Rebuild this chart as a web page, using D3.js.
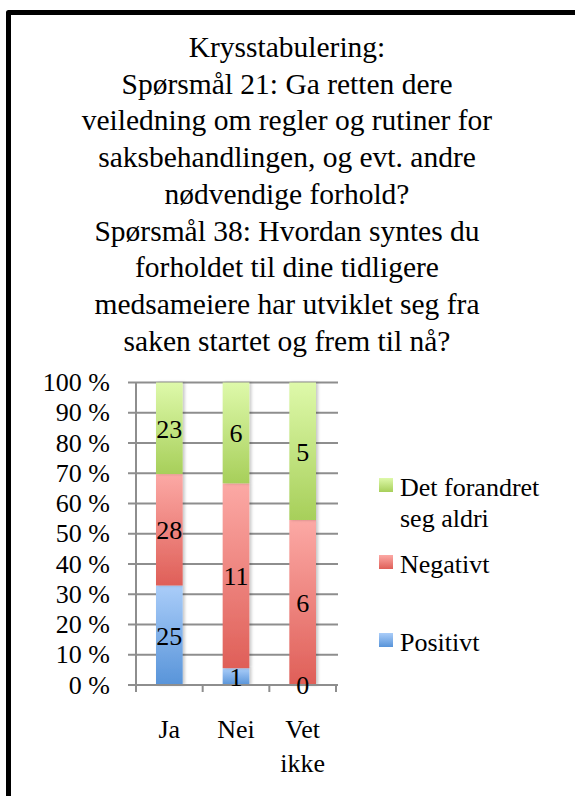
<!DOCTYPE html>
<html>
<head>
    <meta charset="utf-8">
    <title>Krysstabulering</title>
    <style>
        body {
            margin: 0;
            background: #fff;
            overflow: hidden;
        }
        svg text {
            font-family: 'Liberation Serif', 'DejaVu Serif', serif;
            fill: #000;
        }
        .grid line {
            stroke: #8e8e8e;
            stroke-width: 2px;
        }
    </style>
</head>
<body>
    <script src="https://d3js.org/d3.v7.min.js"></script>
    <script>
        // Chart data
        var titleLines = [
            "Krysstabulering:",
            "Spørsmål 21: Ga retten dere",
            "veiledning om regler og rutiner for",
            "saksbehandlingen, og evt. andre",
            "nødvendige forhold?",
            "Spørsmål 38: Hvordan syntes du",
            "forholdet til dine tidligere",
            "medsameiere har utviklet seg fra",
            "saken startet og frem til nå?"
        ];
        var categories = ["Ja", "Nei", "Vet ikke"];
        var seriesNames = ["Positivt", "Negativt", "Det forandret seg aldri"];
        var positive = [25, 1, 0];
        var negative = [28, 11, 6];
        var unchanged = [23, 6, 5];
        var yTicks = [0, 0.1, 0.2, 0.3, 0.4, 0.5, 0.6, 0.7, 0.8, 0.9, 1];

        var width = 575, height = 796;
        var serif = "'Liberation Serif', 'DejaVu Serif', serif";
        var labelSize = "26px";

        var svg = d3.select("body").append("svg")
            .attr("width", width)
            .attr("height", height)
            .attr("font-family", serif);

        // gradients for each series (light at top, darker at bottom)
        var gradColors = [
            ["#aacdf9", "#5894d9"],
            ["#fca9a5", "#df5f58"],
            ["#def9aa", "#a7cf5a"]
        ];
        var defs = svg.append("defs");
        gradColors.forEach(function(c, i) {
            var g = defs.append("linearGradient")
                .attr("id", "grad" + i)
                .attr("x1", 0).attr("y1", 0).attr("x2", 0).attr("y2", 1);
            g.append("stop").attr("offset", "0%").attr("stop-color", c[0]);
            g.append("stop").attr("offset", "100%").attr("stop-color", c[1]);
        });
        var shadow = defs.append("filter").attr("id", "shadow")
            .attr("x", "-30%").attr("y", "-5%").attr("width", "160%").attr("height", "110%");
        shadow.append("feDropShadow")
            .attr("dx", 2).attr("dy", 0)
            .attr("stdDeviation", 1.6)
            .attr("flood-color", "#000")
            .attr("flood-opacity", 0.22);

        // outer frame (only top and left edges are visible)
        svg.append("path")
            .attr("d", "M8.5," + (height + 10) + " V12.5 H" + (width + 10))
            .attr("fill", "none")
            .attr("stroke", "#000")
            .attr("stroke-width", 5)
            .attr("stroke-linejoin", "round");

        // title
        svg.append("text")
            .attr("text-anchor", "middle")
            .style("font-family", serif)
            .style("font-size", "29.5px")
            .selectAll("tspan")
            .data(titleLines)
            .enter().append("tspan")
            .attr("x", 287)
            .attr("y", function(d, i) { return 57 + i * 36.7; })
            .text(function(d) { return d; });

        // stacked percentages
        var stackData = categories.map(function(c, i) {
            var total = positive[i] + negative[i] + unchanged[i];
            return { cat: c, vals: [positive[i], negative[i], unchanged[i]], total: total };
        });

        var x = d3.scaleBand()
            .domain(categories)
            .range([136, 336])
            .paddingInner(0.6)
            .paddingOuter(0.3);

        var y = d3.scaleLinear()
            .domain([0, 1])
            .range([685, 382.5]);

        // horizontal gridlines
        svg.append("g")
            .attr("class", "grid")
            .selectAll("line")
            .data(yTicks)
            .enter().append("line")
            .attr("x1", 128)
            .attr("x2", 338)
            .attr("y1", function(d) { return y(d); })
            .attr("y2", function(d) { return y(d); });

        // y axis labels
        svg.append("g")
            .selectAll("text")
            .data(yTicks)
            .enter().append("text")
            .attr("x", 110)
            .attr("y", function(d) { return y(d); })
            .attr("dy", "0.33em")
            .attr("text-anchor", "end")
            .style("font-family", serif)
            .style("font-size", labelSize)
            .text(function(d) { return Math.round(d * 100) + " %"; });

        // axis lines
        var axisG = svg.append("g").attr("class", "grid");
        axisG.append("line")
            .attr("x1", 136).attr("x2", 136)
            .attr("y1", y(1)).attr("y2", y(0) + 7);
        var step = x.step();
        d3.range(categories.length + 1).forEach(function(k) {
            var xp = x.range()[0] + k * step;
            axisG.append("line")
                .attr("x1", xp).attr("x2", xp)
                .attr("y1", y(0)).attr("y2", y(0) + 7);
        });

        // bars
        var segments = [];
        stackData.forEach(function(d) {
            var acc = 0;
            d.vals.forEach(function(v, s) {
                var p0 = acc / d.total;
                acc += v;
                var p1 = acc / d.total;
                segments.push({ cat: d.cat, s: s, v: v, p0: p0, p1: p1 });
            });
        });

        var bars = svg.append("g");
        bars.selectAll("rect")
            .data(segments.filter(function(d) { return d.v > 0; }))
            .enter().append("rect")
            .attr("x", function(d) { return x(d.cat); })
            .attr("width", x.bandwidth())
            .attr("y", function(d) { return y(d.p1); })
            .attr("height", function(d) { return y(d.p0) - y(d.p1); })
            .attr("fill", function(d) { return "url(#grad" + d.s + ")"; })
            .attr("filter", "url(#shadow)");

        // redraw the baseline over the bars' bottom
        svg.append("line")
            .attr("x1", 128).attr("x2", 338)
            .attr("y1", y(0)).attr("y2", y(0))
            .attr("stroke", "#8e8e8e")
            .attr("stroke-width", 2);

        // data labels
        svg.append("g")
            .selectAll("text")
            .data(segments)
            .enter().append("text")
            .attr("x", function(d) { return x(d.cat) + x.bandwidth() / 2; })
            .attr("y", function(d) { return y((d.p0 + d.p1) / 2); })
            .attr("dy", "0.36em")
            .attr("text-anchor", "middle")
            .style("font-family", serif)
            .style("font-size", labelSize)
            .text(function(d) { return d.v; });

        // category labels (wrapped)
        var catText = svg.append("g")
            .selectAll("text")
            .data(categories)
            .enter().append("text")
            .attr("text-anchor", "middle")
            .style("font-family", serif)
            .style("font-size", labelSize);
        catText.each(function(c) {
            var words = c.split(" ");
            var t = d3.select(this);
            var lines = words.length > 1 && c.length > 4 ? words : [c];
            lines.forEach(function(w, i) {
                t.append("tspan")
                    .attr("x", x(c) + x.bandwidth() / 2)
                    .attr("y", 738 + i * 34)
                    .text(w);
            });
        });

        // legend (top entry first)
        var legendTop = [478, 555, 633];
        var legendOrder = [2, 1, 0];
        var legend = svg.append("g");
        legendOrder.forEach(function(s, k) {
            legend.append("rect")
                .attr("x", 379)
                .attr("y", legendTop[k])
                .attr("width", 14)
                .attr("height", 14)
                .attr("fill", "url(#grad" + s + ")");
            var name = seriesNames[s];
            var lines = name.length > 14 ? ["Det forandret", "seg aldri"] : [name];
            var t = legend.append("text")
                .style("font-family", serif)
                .style("font-size", labelSize);
            lines.forEach(function(l, i) {
                t.append("tspan")
                    .attr("x", 400)
                    .attr("y", legendTop[k] + 18 + i * 31)
                    .text(l);
            });
        });
    </script>
</body>
</html>
